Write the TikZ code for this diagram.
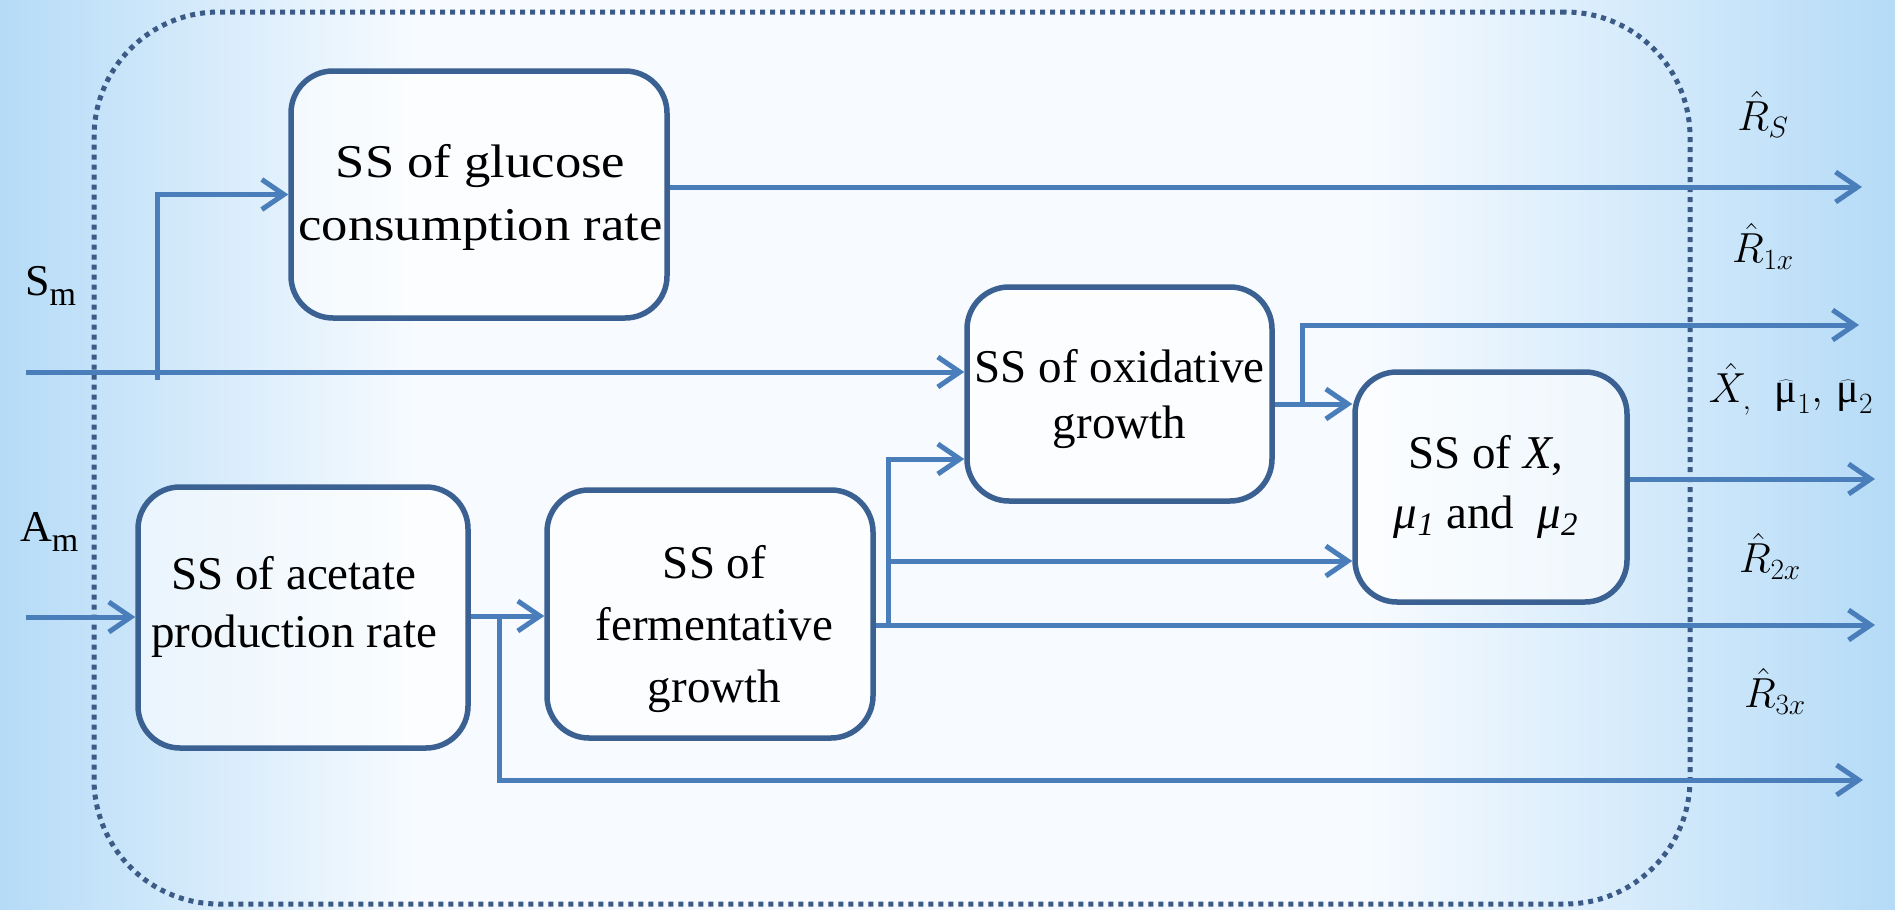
\RequirePackage{fix-cm}
\documentclass[tikz,border=0pt]{standalone}
\usepackage{fontspec}
\setmainfont{Liberation Serif}
\newfontfamily\widefont[FakeStretch=1.12]{Liberation Serif}
\usetikzlibrary{arrows.meta,fadings}

\definecolor{linkblue}{HTML}{4A7EBB}
\definecolor{boxline}{HTML}{3B6192}
\definecolor{dotline}{HTML}{3B5A86}
\definecolor{bgedge}{HTML}{B5DBF7}
\definecolor{bgmid}{HTML}{F7FBFF}
\definecolor{bandc}{HTML}{A9D3F4}

% visible range of a TikZ shading is 25bp..75bp
\pgfdeclarehorizontalshading{bgshade}{100bp}{color(0bp)=(bgedge); color(25bp)=(bgedge); color(36bp)=(bgmid); color(61bp)=(bgmid); color(75bp)=(bgedge); color(100bp)=(bgedge)}
\tikzfading[name=bandfade, top color=transparent!100, middle color=transparent!0, bottom color=transparent!100]

\begin{document}
\begin{tikzpicture}[x=1pt,y=-1pt,
  blockbox/.style={draw=boxline, line width=5.5pt, rounded corners=42pt, fill=white, fill opacity=0.6, inner sep=0pt},
  blocktext/.style={align=center, inner sep=0pt, text=black},
  frame/.style={draw=dotline, line width=5pt, dash pattern=on 5pt off 5pt, rounded corners=125pt, inner sep=0pt},
  link/.style={draw=linkblue, line width=5pt},
  arr/.style={link, -{Straight Barb[length=22pt,width=30pt]}},
  inlab/.style={inner sep=0pt, anchor=base west, font=\fontsize{44}{50}\selectfont},
  outlab/.style={inner sep=0pt, font=\fontsize{42}{50}\selectfont}
]
\useasboundingbox (0,0) rectangle (1895,910);
% background
\shade[shading=bgshade] (0,0) rectangle (1895,910);
\fill[bandc, path fading=bandfade, fill opacity=0.6] (0,610) rectangle (1895,700);
\fill[bandc, path fading=bandfade, fill opacity=0.5] (0,730) rectangle (1895,790);

% frame
\node[frame, minimum width=1596pt, minimum height=892pt] (frame) at (892,458) {};

% blocks
\node[blockbox, minimum width=376pt, minimum height=247pt] (glu) at (479,194.5) {};
\node[blockbox, minimum width=330pt, minimum height=261pt] (ace) at (303,617.5) {};
\node[blockbox, minimum width=326pt, minimum height=248pt] (fer) at (710,614) {};
\node[blockbox, minimum width=305pt, minimum height=214pt] (oxi) at (1119.5,394) {};
\node[blockbox, minimum width=272pt, minimum height=230pt] (xbox) at (1491,487) {};

% block texts
\node[blocktext, font=\widefont\fontsize{47}{63}\selectfont] (glut) at (480.5,197.5) {SS of glucose\\consumption rate};
\node[blocktext, font=\fontsize{47}{58}\selectfont] (acet) at (294,607) {SS of acetate\\production rate};
\node[blocktext, font=\fontsize{47}{62}\selectfont] (fert) at (714.5,629) {SS of\\fermentative\\growth};
\node[blocktext, font=\fontsize{47}{56}\selectfont] (oxit) at (1119.5,399) {SS of oxidative\\growth};
\node[blocktext, font=\fontsize{47}{60}\selectfont] (xt) at (1486,487) {SS of \textit{X},\\\textit{μ}\textsubscript{\itshape 1} and~ \textit{μ}\textsubscript{\itshape 2}};

% input labels
\node[inlab] (smlab) at (25,295) {S\raisebox{-10pt}{\fontsize{34}{34}\selectfont m}};
\node[inlab] (amlab) at (20,541) {A\raisebox{-10pt}{\fontsize{34}{34}\selectfont m}};

% output labels
\node[outlab] (rs) at (1763,114) {$\hat{R}_S$};
\node[outlab] (r1) at (1763,246) {$\hat{R}_{1x}$};
\node[outlab] (xm) at (1791,389) {$\hat{X}_{,}\;\;\widehat{\mbox{μ}}_1,\,\widehat{\mbox{μ}}_2$};
\node[outlab] (r2) at (1770,556) {$\hat{R}_{2x}$};
\node[outlab] (r3) at (1775,691) {$\hat{R}_{3x}$};

% coordinates
\coordinate (sm) at (26,372);
\coordinate (smb) at (157,380);
\coordinate (am) at (26,617);
\coordinate (outS) at (1862,187);
\coordinate (out1) at (1859,325);
\coordinate (outX) at (1875,479);
\coordinate (out2) at (1875,625);
\coordinate (out3) at (1863,780);
\coordinate (acb) at (499,616);
\coordinate (fv) at (888,625);
\coordinate (fm) at (888,561);
\coordinate (ob) at (1302,404);

% connectors
\draw[arr] (sm) -- (oxi.west |- sm);
\draw[arr] (smb) |- (glu.west);
\draw[arr] (am) -- (ace.west |- am);
\draw[arr] (ace.east |- acb) -- (fer.west |- acb);
\draw[arr] (acb) |- (out3);
\draw[arr] (fer.east |- fv) -- (out2);
\draw[arr] (fv) |- (oxi.west |- 0,459);
\draw[arr] (fm) -- (xbox.west |- fm);
\draw[arr] (oxi.east |- ob) -- (xbox.west |- ob);
\draw[arr] (ob) |- (out1);
\draw[arr] (glu.east |- outS) -- (outS);
\draw[arr] (xbox.east |- outX) -- (outX);
\end{tikzpicture}
\end{document}
